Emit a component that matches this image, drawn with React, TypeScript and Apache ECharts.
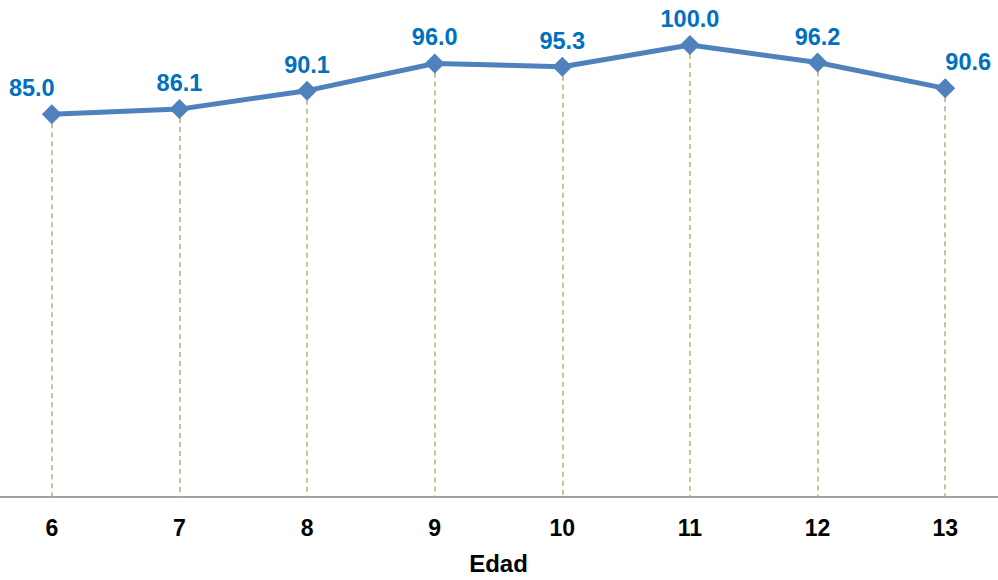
import React, { useEffect, useRef } from "react";
import * as echarts from "echarts";

const categories = ["6", "7", "8", "9", "10", "11", "12", "13"];
const values = [85.0, 86.1, 90.1, 96.0, 95.3, 100.0, 96.2, 90.6];
const axisName = "Edad";

const Y_MIN = 2;
const Y_MAX = 100;

export default function App() {
  const ref = useRef<HTMLDivElement>(null);
  useEffect(() => {
    if (!ref.current) return;
    const chart = echarts.init(ref.current, undefined, { renderer: "svg" });
    const font = "'Liberation Sans', Arial, sans-serif";
    const labelOffsets: Record<number, [number, number]> = {
      0: [-20, 0],
      7: [23, 0],
    };
    const data = values.map((v, i) => ({
      value: v,
      label: labelOffsets[i] ? { offset: labelOffsets[i] } : undefined,
    }));
    const dropLines = values.map((v, i) => [
      { xAxis: i, yAxis: v },
      { xAxis: i, yAxis: Y_MIN },
    ]);
    chart.setOption({
      animation: false,
      grid: { left: 0, right: 0, top: 45, height: 457 },
      xAxis: {
        type: "category",
        data: categories,
        boundaryGap: true,
        axisLine: { lineStyle: { color: "#a0a0a0", width: 2 } },
        axisTick: { show: false },
        axisLabel: {
          color: "#000",
          fontFamily: font,
          fontWeight: "bold",
          fontSize: 23,
          margin: 19,
        },
        name: axisName,
        nameLocation: "middle",
        nameGap: 54,
        nameTextStyle: {
          color: "#000",
          fontFamily: font,
          fontWeight: "bold",
          fontSize: 24,
        },
      },
      yAxis: {
        type: "value",
        min: Y_MIN,
        max: Y_MAX,
        show: false,
        splitLine: { show: false },
      },
      series: [
        {
          type: "line",
          data,
          clip: false,
          symbol: "diamond",
          symbolSize: 20,
          lineStyle: { color: "#4F81BD", width: 5 },
          itemStyle: { color: "#4F81BD" },
          label: {
            show: true,
            position: "top",
            distance: 4,
            color: "#0070C0",
            fontFamily: font,
            fontWeight: "bold",
            fontSize: 23.5,
            formatter: (p: any) => Number(p.value).toFixed(1),
          },
          z: 3,
          markLine: {
            silent: true,
            symbol: ["none", "none"],
            label: { show: false },
            lineStyle: { color: "#B5AD7E", type: [5, 4], width: 1.5 },
            data: dropLines,
            z: 1,
          },
        },
      ],
    });
    return () => chart.dispose();
  }, []);
  return (
    <div
      ref={ref}
      style={{ position: "fixed", left: -12, top: 0, width: 1021, height: 580, background: "#fff" }}
    />
  );
}
